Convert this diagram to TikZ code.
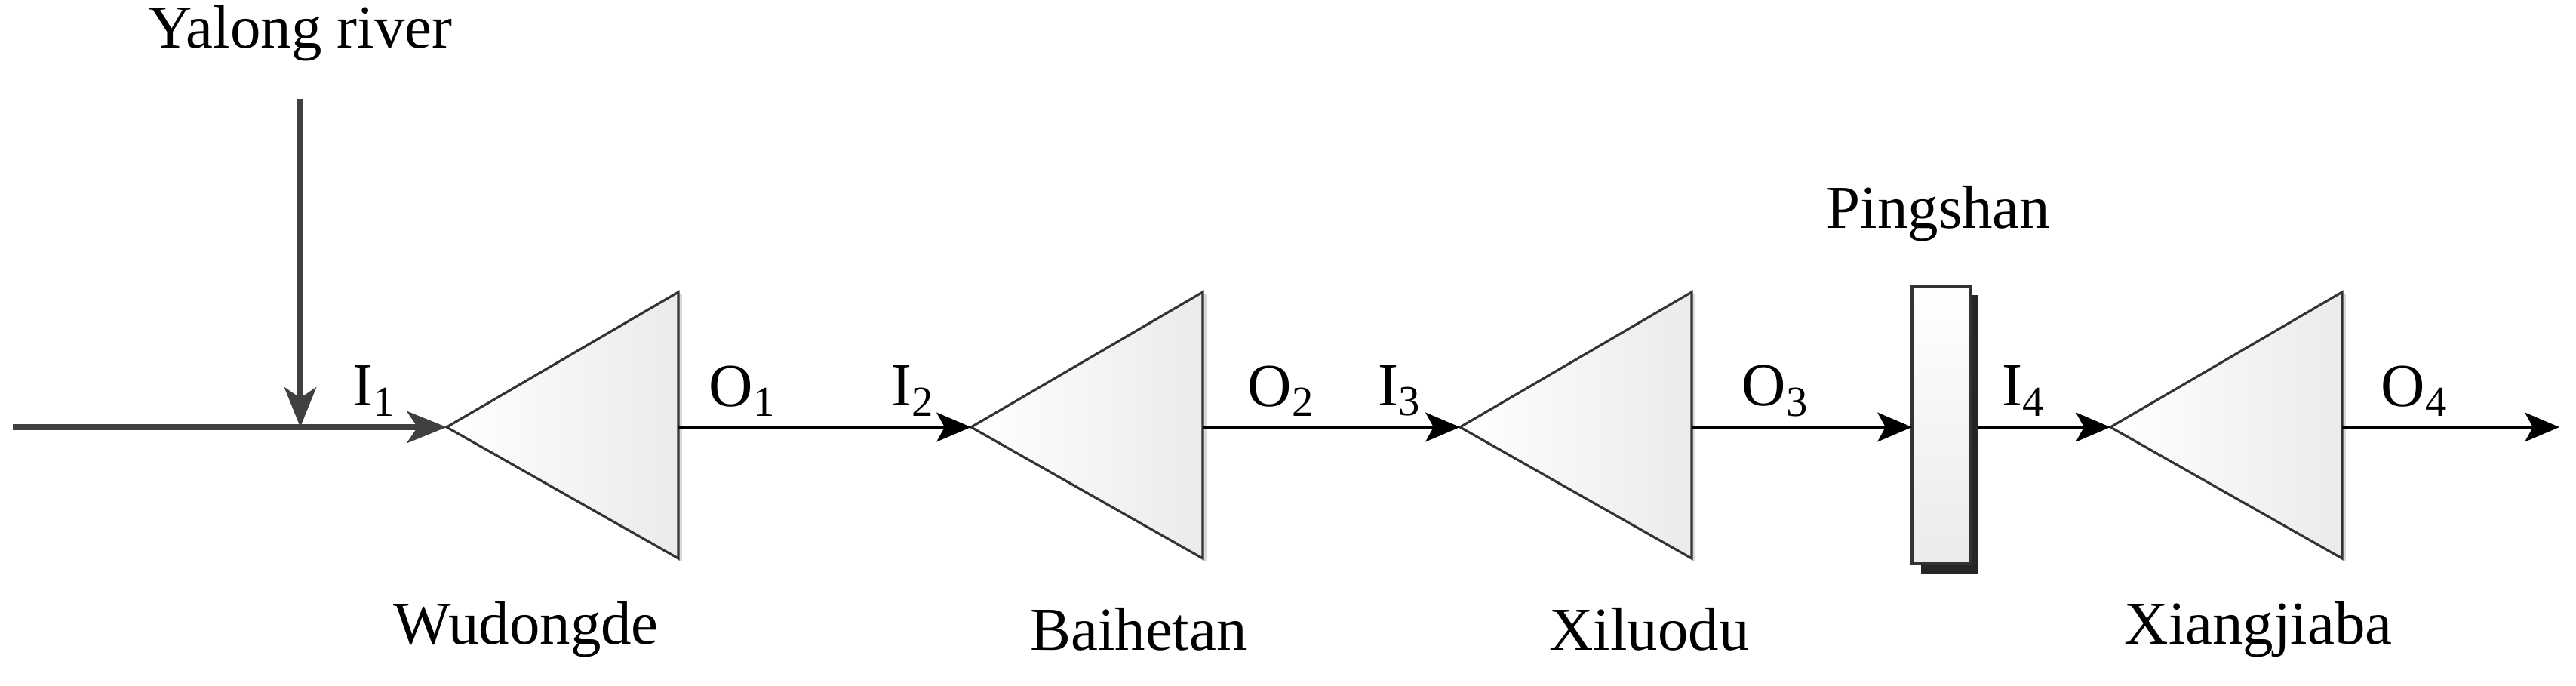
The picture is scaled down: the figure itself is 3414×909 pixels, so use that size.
\documentclass[tikz,border=0pt]{standalone}
\usepackage{fontspec}
\setmainfont{Liberation Serif}
\usetikzlibrary{arrows.meta,positioning}
\tikzset{
  dam/.style={draw=black!80, line width=0.9pt, left color=white, right color=black!8},
  flow/.style={-{Stealth[length=13pt,width=11pt,inset=3pt]}, line width=0.9pt},
  bigflow/.style={-{Stealth[length=15pt,width=12pt,inset=4pt]}, line width=2pt, draw=black!75},
  lbl/.style={font=\fontsize{23pt}{27pt}\selectfont, inner sep=0pt},
}
\begin{document}
\begin{tikzpicture}[x=0.01cm,y=-0.01cm]
  \useasboundingbox (0,0) rectangle (3414,909);
  % reservoirs
  \foreach \name/\tx in {wu/592, bai/1287, xi/1935, xj/2797} {
    \coordinate (\name-in) at (\tx,566);
    \coordinate (\name-out) at (\tx+307,566);
    \fill[black!15] (\tx+307,389) rectangle (\tx+312,744);
    \draw[dam] (\tx,566) -- (\tx+307,387) -- (\tx+307,740) -- cycle;
  }
  % Pingshan
  \fill[black!85] (2546,391) rectangle (2622,760);
  \draw[line width=0.9pt, draw=black!80, top color=white, bottom color=black!8]
    (2534,379) rectangle (2612,747);
  \coordinate (ps-in) at (2534,566);
  \coordinate (ps-out) at (2622,566);
  % flows
  \coordinate (start) at (17,566);
  \coordinate (yl-top) at (398,131);
  \coordinate (yl-join) at (398,566);
  \coordinate (end) at (3392,566);
  \draw[bigflow] (start) -- (wu-in);
  \draw[bigflow] (yl-top) -- (yl-join);
  \draw[flow] (wu-out) -- (bai-in);
  \draw[flow] (bai-out) -- (xi-in);
  \draw[flow] (xi-out) -- (ps-in);
  \draw[flow] (ps-out) -- (xj-in);
  \draw[flow] (xj-out) -- (end);
  % labels
  \node[lbl] (yalong) at (398,44) {Yalong river};
  \node[lbl] (l-i1) at (496,518) {I\textsubscript{1}};
  \node[lbl] (l-o1) at (984,518) {O\textsubscript{1}};
  \node[lbl] (l-i2) at (1210,518) {I\textsubscript{2}};
  \node[lbl] (l-o2) at (1698,518) {O\textsubscript{2}};
  \node[lbl] (l-i3) at (1855,518) {I\textsubscript{3}};
  \node[lbl] (l-o3) at (2353,518) {O\textsubscript{3}};
  \node[lbl] (l-i4) at (2682,518) {I\textsubscript{4}};
  \node[lbl] (l-o4) at (3200,518) {O\textsubscript{4}};
  \node[lbl] (n-wu) at (697,834) {Wudongde};
  \node[lbl] (n-bai) at (1509,834) {Baihetan};
  \node[lbl] (n-xi) at (2186,834) {Xiluodu};
  \node[lbl] (n-ps) at (2569,283) {Pingshan};
  \node[lbl] (n-xj) at (2993,834) {Xiangjiaba};
\end{tikzpicture}
\end{document}
